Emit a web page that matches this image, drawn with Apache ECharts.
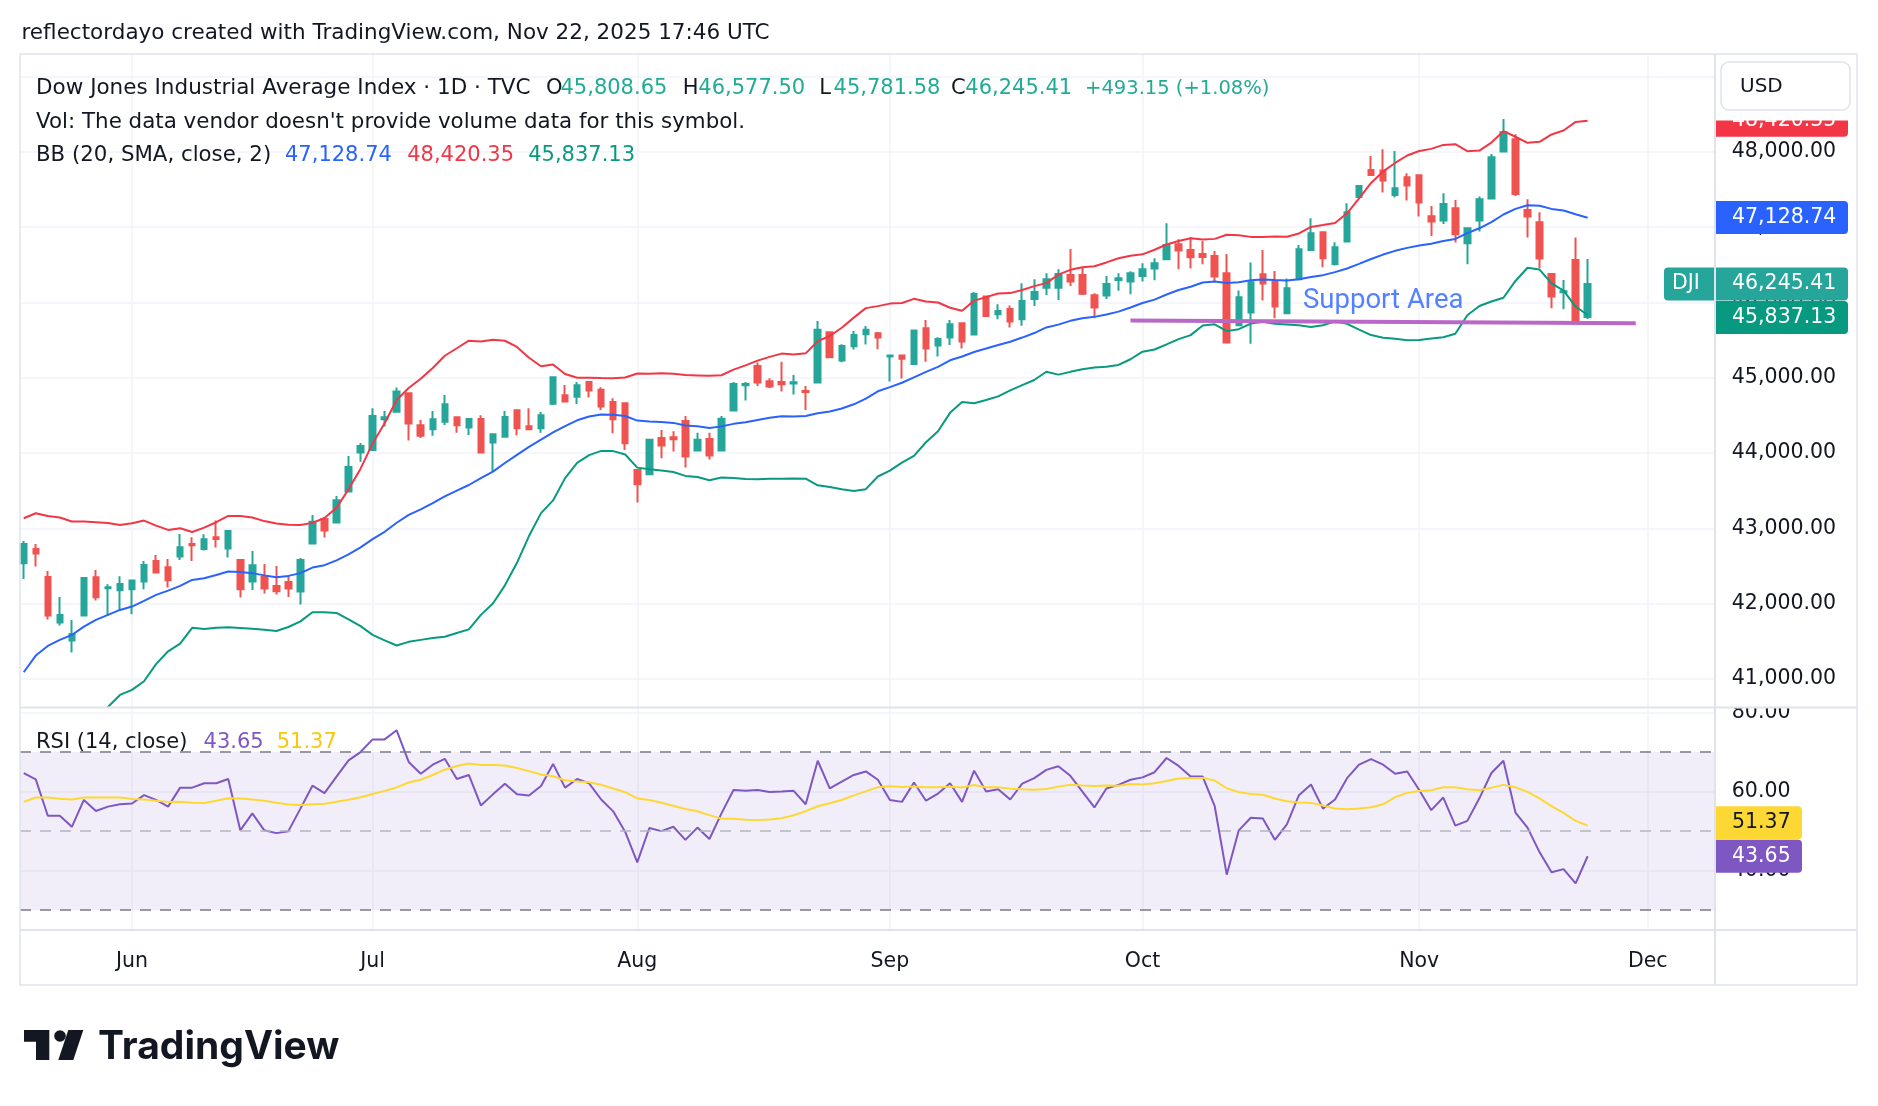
<!DOCTYPE html>
<html>
<head>
<meta charset="utf-8">
<title>DJI 1D - Bollinger Bands / RSI</title>
<script src="https://cdn.jsdelivr.net/npm/echarts@6/dist/echarts.min.js"></script>
<style>
  html, body { margin: 0; padding: 0; background: #fff; }
  #chart { width: 1878px; height: 1106px; }
</style>
</head>
<body>
<div id="chart"></div>
<script>
// daily candles, first bar = 2025-05-19, last bar = 2025-11-21
const opens = [
  42537, 42728, 42356, 41749, 41510, 41842, 42351, 42205, 42179, 42192,
  42294, 42568, 42484, 42626, 42794, 42728, 42883, 42732, 42582, 42294,
  42356, 42236, 42289, 42161, 42798, 43126, 43077, 43489, 44007, 44042,
  44449, 44551, 44795, 44370, 44317, 44418, 44476, 44339, 44454, 44140,
  44219, 44569, 44356, 44330, 44657, 44768, 44750, 44946, 44840, 44680,
  44663, 43777, 43720, 44202, 44211, 44428, 44034, 44189, 44034, 44565,
  44902, 45158, 44955, 44946, 44924, 44826, 44937, 45606, 45229, 45420,
  45579, 45592, 45282, 45295, 45184, 45658, 45428, 45534, 45724, 45574,
  46079, 45844, 45915, 45778, 46048, 46198, 46198, 46366, 46366, 46096,
  46092, 46300, 46278, 46354, 46451, 46575, 46774, 46699, 46646, 46619,
  46389, 45699, 45867, 46376, 46283, 45858, 46309, 46699, 46934, 46513,
  46810, 47403, 47761, 47753, 47429, 47664, 47690, 47146, 47088, 47252,
  46787, 47088, 47381, 48005, 48169, 47230, 47066, 46380, 46137, 46566,
  45808.65
];
const highs = [
  42834, 42794, 42435, 42090, 41785, 42342, 42449, 42258, 42365, 42316,
  42568, 42648, 42595, 42927, 42883, 42922, 43104, 42967, 42590, 42701,
  42528, 42502, 42382, 42608, 43179, 43126, 43431, 43962, 44135, 44595,
  44560, 44870, 44795, 44441, 44560, 44773, 44476, 44463, 44502, 44250,
  44560, 44569, 44595, 44547, 45016, 44905, 44945, 44946, 44875, 44729,
  44663, 43777, 44189, 44308, 44291, 44494, 44269, 44269, 44494, 44946,
  44946, 45203, 44995, 45212, 45039, 44893, 45756, 45606, 45446, 45623,
  45690, 45609, 45295, 45295, 45636, 45769, 45539, 45769, 45724, 46141,
  46092, 45977, 45959, 46256, 46309, 46389, 46442, 46712, 46468, 46123,
  46353, 46389, 46415, 46522, 46588, 47053, 46841, 46867, 46818, 46686,
  46646, 46159, 46531, 46699, 46420, 46318, 46765, 47120, 46934, 46801,
  47319, 47562, 47947, 48036, 48014, 47717, 47690, 47283, 47451, 47363,
  47000, 47407, 47974, 48439, 48235, 47372, 47199, 46380, 46300, 46863,
  46577.50
];
const lows = [
  42329, 42493, 41789, 41709, 41351, 41842, 42041, 41842, 41913, 41860,
  42192, 42413, 42214, 42582, 42568, 42706, 42745, 42613, 42081, 42183,
  42134, 42121, 42090, 41988, 42798, 42878, 43077, 43489, 43887, 44042,
  44352, 44551, 44166, 44201, 44232, 44374, 44272, 44241, 44007, 43754,
  44206, 44237, 44317, 44272, 44640, 44684, 44653, 44738, 44574, 44264,
  44043, 43343, 43720, 43932, 44021, 43808, 44034, 43915, 44034, 44565,
  44698, 44893, 44866, 44818, 44778, 44574, 44937, 45274, 45207, 45375,
  45442, 45379, 44950, 44990, 45171, 45215, 45282, 45437, 45388, 45574,
  45813, 45778, 45667, 45693, 45955, 46101, 46034, 46220, 46101, 45791,
  46048, 46158, 46110, 46278, 46296, 46575, 46442, 46451, 46509, 46278,
  45468, 45699, 45451, 46026, 45791, 45858, 46309, 46686, 46469, 46491,
  46810, 47403, 47682, 47460, 47394, 47354, 47142, 46885, 47044, 46796,
  46509, 46942, 47381, 48005, 47416, 46863, 46455, 45924, 45911, 45747,
  45781.58
];
const closes = [
  42794, 42666, 41842, 41851, 41599, 42342, 42086, 42219, 42263, 42307,
  42515, 42413, 42311, 42750, 42776, 42856, 42860, 42967, 42192, 42511,
  42201, 42165, 42201, 42582, 43090, 42971, 43374, 43816, 44095, 44494,
  44476, 44817, 44392, 44232, 44449, 44649, 44370, 44454, 44007, 44250,
  44480, 44330, 44317, 44502, 45007, 44684, 44901, 44831, 44618, 44450,
  44131, 43587, 44176, 44100, 44185, 43954, 44176, 43968, 44455, 44919,
  44919, 44937, 44884, 44915, 44942, 44813, 45637, 45274, 45424, 45570,
  45637, 45534, 45295, 45255, 45627, 45388, 45516, 45711, 45481, 46114,
  45822, 45888, 45747, 46021, 46141, 46309, 46380, 46278, 46118, 45933,
  46247, 46322, 46389, 46442, 46522, 46765, 46690, 46602, 46606, 46345,
  45468, 46070, 46270, 46252, 45946, 46190, 46708, 46920, 46588, 46734,
  47199, 47549, 47695, 47620, 47518, 47553, 47328, 47075, 47310, 46907,
  46987, 47372, 47930, 48262, 47443, 47142, 46584, 46079, 46150, 45752.26,
  46245.41
];

// Bollinger values before a full 20-bar window exists
const bbUpperHead = [43135, 43201, 43166, 43144, 43091, 43091, 43082, 43073, 43046, 43068,
                     43104, 43037, 42980, 43002, 42953, 43011, 43082, 43166, 43166];
const bbMidHead = [41090, 41311, 41439, 41519, 41585, 41696, 41785, 41851, 41917, 41962,
                   42037, 42117, 42174, 42236, 42316, 42338, 42382, 42427, 42422];

const rsiValues = [
  64.7, 63.1, 53.9, 53.9, 51.1, 57.9, 55.1, 56.2, 56.8, 57.0,
  59.1, 57.9, 56.2, 61.0, 61.0, 62.1, 62.1, 63.2, 50.2, 54.5,
  50.2, 49.5, 50.0, 55.7, 61.5, 59.6, 63.8, 67.9, 70.0, 73.2,
  73.2, 75.5, 67.5, 64.5, 66.8, 68.3, 63.2, 64.2, 56.5, 59.3,
  62.0, 59.3, 59.0, 61.4, 67.0, 61.0, 63.2, 62.1, 58.0, 55.0,
  49.8, 42.1, 50.8, 50.0, 51.1, 47.8, 50.9, 48.0, 54.5, 60.4,
  60.2, 60.4, 59.9, 60.0, 60.2, 56.8, 67.8, 60.8, 62.5, 64.2,
  65.1, 63.0, 57.9, 57.4, 62.3, 57.7, 59.5, 62.1, 57.4, 65.3,
  60.0, 60.6, 58.0, 62.0, 63.4, 65.5, 66.4, 64.0, 60.0, 56.0,
  60.8, 61.7, 63.0, 63.6, 64.9, 68.5, 66.5, 63.8, 63.8, 56.3,
  39.0, 50.2, 53.4, 53.2, 47.8, 51.7, 59.1, 61.8, 55.7, 58.0,
  63.4, 66.8, 68.2, 66.8, 64.5, 65.1, 60.4, 55.3, 58.5, 51.4,
  52.6, 58.3, 64.7, 67.8, 54.7, 50.9, 44.7, 39.6, 40.4, 36.8,
  43.65
];
// RSI moving average before 14 RSI values exist
const rsiMaHead = [57.4, 58.5, 58.5, 58.2, 58.0, 58.5, 58.5, 58.5, 58.5, 58.1, 58.0, 57.7, 57.4];

// values printed in the legends
const bbLast = { basis: 47128.74, upper: 48420.35, lower: 45837.13 };
const rsiLast = { rsi: 43.65, ma: 51.37 };

// drawn support line: [bar index, price]
const supportLine = [[92, 45760], [134, 45725]];
const supportLabel = [106.3, 46016];

const priceLabels = [41000, 42000, 43000, 44000, 45000, 46000, 47000, 48000];
const priceGrid = [41000, 42000, 43000, 44000, 45000, 46000, 47000, 48000, 49000];
const rsiLabels = [40, 60, 80];
const holidays = ['2025-05-26', '2025-06-19', '2025-07-04', '2025-09-01', '2025-11-27'];
const monthNames = ['Jan', 'Feb', 'Mar', 'Apr', 'May', 'Jun', 'Jul', 'Aug', 'Sep', 'Oct', 'Nov', 'Dec'];

const FONT = '"DejaVu Sans", sans-serif';
const UP = '#26A69A', DOWN = '#EF5350';
const GRID = '#F0F3FA', FRAME = '#E0E3EB', TEXT = '#131722';
const X_MIN = -0.31, X_MAX = 140.57;

function tradingDays(start, end) {
  const out = [];
  const d = new Date(start + 'T00:00:00Z');
  const e = new Date(end + 'T00:00:00Z');
  while (d <= e) {
    const wd = d.getUTCDay();
    const s = d.toISOString().slice(0, 10);
    if (wd !== 0 && wd !== 6 && holidays.indexOf(s) < 0) out.push(s);
    d.setUTCDate(d.getUTCDate() + 1);
  }
  return out;
}
const days = tradingDays('2025-05-19', '2025-12-31');
const monthIdx = [], monthLab = {};
days.forEach(function (s, i) {
  if (i > 0 && s.slice(5, 7) !== days[i - 1].slice(5, 7) && i <= X_MAX) {
    monthIdx.push(i);
    monthLab[i] = monthNames[+s.slice(5, 7) - 1];
  }
});

const fmt = v => v.toLocaleString('en-US', { minimumFractionDigits: 2, maximumFractionDigits: 2 });

// bollinger (20, sma, close, 2)
const bbUpper = [], bbMid = [], bbLower = [], bbBand = [];
closes.forEach(function (c, i) {
  let m, u, l;
  if (i < bbMidHead.length) {
    m = bbMidHead[i]; u = bbUpperHead[i]; l = 2 * m - u;
  } else {
    const w = closes.slice(i - 19, i + 1);
    m = w.reduce((a, b) => a + b, 0) / 20;
    const sd = Math.sqrt(w.reduce((a, b) => a + (b - m) * (b - m), 0) / 20);
    u = m + 2 * sd; l = m - 2 * sd;
  }
  bbUpper.push([i, u]); bbMid.push([i, m]); bbLower.push([i, l]); bbBand.push([i, u - l]);
});

const rsiData = rsiValues.map((v, i) => [i, v]);
const rsiMa = rsiValues.map(function (v, i) {
  if (i < rsiMaHead.length) return [i, rsiMaHead[i]];
  const w = rsiValues.slice(i - 13, i + 1);
  return [i, w.reduce((a, b) => a + b, 0) / 14];
});
const candles = closes.map((c, i) => [i, opens[i], c, lows[i], highs[i]]);

const n = closes.length - 1;
const change = closes[n] - closes[n - 1];
const changePct = change / closes[n - 1] * 100;

const chart = echarts.init(document.getElementById('chart'));

const option = {
  animation: false,
  backgroundColor: '#ffffff',
  grid: [
    { left: 20, top: 54, width: 1694.8, height: 653 },
    { left: 20, top: 708, width: 1694.8, height: 222 }
  ],
  xAxis: [
    {
      type: 'value', gridIndex: 0, min: X_MIN, max: X_MAX,
      axisLine: { show: false },
      axisTick: { show: false, customValues: monthIdx },
      axisLabel: { show: false, customValues: monthIdx },
      splitLine: { show: true, lineStyle: { color: GRID, width: 1.5 } }
    },
    {
      type: 'value', gridIndex: 1, min: X_MIN, max: X_MAX,
      axisLine: { show: false },
      axisTick: { show: false, customValues: monthIdx },
      axisLabel: {
        show: true, customValues: monthIdx, margin: 21.5,
        formatter: v => monthLab[v] || '',
        color: TEXT, fontSize: 20.5, fontFamily: FONT
      },
      splitLine: { show: true, lineStyle: { color: GRID, width: 1.5 } }
    }
  ],
  yAxis: [
    {
      type: 'value', gridIndex: 0, position: 'right', min: 40628, max: 49301,
      axisLine: { show: false },
      axisTick: { show: false, customValues: priceGrid },
      axisLabel: {
        customValues: priceLabels, margin: 17, formatter: v => fmt(v),
        color: TEXT, fontSize: 20.5, fontFamily: FONT
      },
      splitLine: { show: true, lineStyle: { color: GRID, width: 1.5 } }
    },
    {
      type: 'value', gridIndex: 1, position: 'right', min: 25.0, max: 81.14,
      axisLine: { show: false },
      axisTick: { show: false, customValues: rsiLabels },
      axisLabel: {
        customValues: rsiLabels, margin: 17, formatter: v => v.toFixed(2),
        color: TEXT, fontSize: 20.5, fontFamily: FONT
      },
      splitLine: { show: true, lineStyle: { color: GRID, width: 1.5 } }
    }
  ],
  series: [
    {
      name: 'bb base', type: 'line', xAxisIndex: 0, yAxisIndex: 0, stack: 'bb',
      data: bbLower, symbol: 'none', silent: true, z: 1,
      lineStyle: { width: 0, opacity: 0 }
    },
    {
      name: 'bb fill', type: 'line', xAxisIndex: 0, yAxisIndex: 0, stack: 'bb',
      data: bbBand, symbol: 'none', silent: true, z: 1,
      lineStyle: { width: 0, opacity: 0 },
      areaStyle: { color: 'rgba(33, 150, 243, 0.05)', opacity: 1 }
    },
    {
      name: 'DJI', type: 'candlestick', xAxisIndex: 0, yAxisIndex: 0,
      data: candles, barWidth: 6, z: 3,
      itemStyle: { color: UP, color0: DOWN, borderColor: UP, borderColor0: DOWN, borderWidth: 2 }
    },
    {
      name: 'upper', type: 'line', xAxisIndex: 0, yAxisIndex: 0, data: bbUpper,
      symbol: 'none', z: 4, lineStyle: { color: '#F23645', width: 2 }
    },
    {
      name: 'basis', type: 'line', xAxisIndex: 0, yAxisIndex: 0, data: bbMid,
      symbol: 'none', z: 4, lineStyle: { color: '#2962FF', width: 2 }
    },
    {
      name: 'lower', type: 'line', xAxisIndex: 0, yAxisIndex: 0, data: bbLower,
      symbol: 'none', z: 4, lineStyle: { color: '#089981', width: 2 }
    },
    {
      name: 'support', type: 'line', xAxisIndex: 0, yAxisIndex: 0, data: supportLine,
      symbol: 'none', z: 5, lineStyle: { color: '#BA68C8', width: 4 }
    },
    {
      name: 'support text', type: 'scatter', xAxisIndex: 0, yAxisIndex: 0, data: [supportLabel],
      symbolSize: 1, z: 6, itemStyle: { color: 'rgba(0,0,0,0)' },
      label: {
        show: true, position: 'right', distance: 0, formatter: 'Support Area',
        color: '#2962FF', fontSize: 27.5, fontFamily: 'Roboto'
      }
    },
    {
      name: 'RSI', type: 'line', xAxisIndex: 1, yAxisIndex: 1, data: rsiData,
      symbol: 'none', z: 4, lineStyle: { color: '#7E57C2', width: 2 },
      markArea: {
        silent: true, itemStyle: { color: 'rgba(126, 87, 194, 0.1)' },
        data: [[{ yAxis: 30 }, { yAxis: 70 }]]
      },
      markLine: {
        silent: true, symbol: 'none', label: { show: false },
        data: [
          { yAxis: 70, lineStyle: { color: '#787B86', type: [11, 9], width: 1.5 } },
          { yAxis: 50, lineStyle: { color: '#B2B5BE', type: [11, 9], width: 1.5 } },
          { yAxis: 30, lineStyle: { color: '#787B86', type: [11, 9], width: 1.5 } }
        ]
      }
    },
    {
      name: 'RSI MA', type: 'line', xAxisIndex: 1, yAxisIndex: 1, data: rsiMa,
      symbol: 'none', z: 4, lineStyle: { color: '#FDD835', width: 2 }
    }
  ]
};

chart.setOption(option);

// ---- overlay: legends, price tags, frame, logo
const TY = 3.5; // legend text sits a little lower than the em-box middle
function txt(x, y, text, fill, size, extra) {
  return Object.assign({
    type: 'text', x: x, y: y, z: 100,
    style: { text: text, fill: fill, font: (size || 21) + 'px ' + FONT, verticalAlign: 'middle' }
  }, extra || {});
}
function legend(x, y, text, fill, size) {
  return txt(x, y + TY, text, fill, size);
}
function tag(x, cy, w, color, text, textColor, textX, radius) {
  return [
    { type: 'rect', z: 110, shape: { x: x, y: cy - 16.5, width: w, height: 33, r: radius }, style: { fill: color } },
    txt(textX, cy, text, textColor, 20.5, { z: 111 })
  ];
}
function line(x1, y1, x2, y2, color, width) {
  return { type: 'line', z: 105, shape: { x1: x1, y1: y1, x2: x2, y2: y2 }, style: { stroke: color, lineWidth: width || 1.5 } };
}

const py = v => chart.convertToPixel({ yAxisIndex: 0 }, v);
const ry = v => chart.convertToPixel({ yAxisIndex: 1 }, v);

const yRed = py(bbLast.upper), yBlue = py(bbLast.basis), yClose = py(closes[n]);
const yGreen = Math.max(py(bbLast.lower), yClose + 33.5);
const yPurple = ry(rsiLast.rsi);
const yYellow = Math.min(ry(rsiLast.ma), yPurple - 33.5);

const TEAL = '#22AB94';
const sign = v => (v >= 0 ? '+' : '');
const g = [
  legend(21.5, 30, 'reflectordayo created with TradingView.com, Nov 22, 2025 17:46 UTC', TEXT, 21.5),
  legend(36, 85, 'Dow Jones Industrial Average Index · 1D · TVC', TEXT, 21.5),
  legend(546, 85, 'O', TEXT), legend(560.5, 85, fmt(opens[n]), TEAL),
  legend(682.7, 85, 'H', TEXT), legend(698.3, 85, fmt(highs[n]), TEAL),
  legend(819.2, 85, 'L', TEXT), legend(833.6, 85, fmt(lows[n]), TEAL),
  legend(951, 85, 'C', TEXT), legend(965.3, 85, fmt(closes[n]), TEAL),
  legend(1085.1, 85, sign(change) + change.toFixed(2) + ' (' + sign(change) + changePct.toFixed(2) + '%)', TEAL, 19.5),
  legend(36, 118.6, "Vol: The data vendor doesn't provide volume data for this symbol.", TEXT, 21.4),
  legend(36, 152, 'BB (20, SMA, close, 2)', TEXT, 21.3),
  legend(285, 152, fmt(bbLast.basis), '#2962FF'),
  legend(407.2, 152, fmt(bbLast.upper), '#F23645'),
  legend(528.2, 152, fmt(bbLast.lower), '#089981'),
  legend(36, 739, 'RSI (14, close)', TEXT),
  legend(203.6, 739, rsiLast.rsi.toFixed(2), '#7E57C2'),
  legend(276.7, 739, rsiLast.ma.toFixed(2), '#F9C80E'),

  // frame and pane separators
  { type: 'rect', z: 104, shape: { x: 20, y: 54, width: 1837, height: 931 }, style: { fill: 'none', stroke: FRAME, lineWidth: 1.5 } },
  line(20, 707.5, 1857, 707.5, FRAME, 2),
  line(20, 930, 1857, 930, FRAME, 2),
  line(1715, 54, 1715, 985, FRAME, 2),
  // hide the top of the "80.00" label like the pane clip does
  { type: 'rect', z: 103, shape: { x: 1716, y: 690, width: 140, height: 17 }, style: { fill: '#fff' } }
];

g.push.apply(g, tag(1716, yRed, 132, '#F23645', fmt(bbLast.upper), '#fff', 1732, [0, 4, 4, 0]));
g.push.apply(g, tag(1716, yBlue, 132, '#2962FF', fmt(bbLast.basis), '#fff', 1732, [0, 4, 4, 0]));
g.push.apply(g, tag(1716, yClose, 132, UP, fmt(closes[n]), '#fff', 1732, [0, 4, 4, 0]));
g.push.apply(g, tag(1664, yClose, 50, UP, 'DJI', '#fff', 1672, [4, 0, 0, 4]));
g.push.apply(g, tag(1716, yGreen, 132, '#089981', fmt(bbLast.lower), '#fff', 1732, [0, 4, 4, 0]));
g.push.apply(g, tag(1716, yYellow, 86, '#FDD835', rsiLast.ma.toFixed(2), TEXT, 1732, [0, 4, 4, 0]));
g.push.apply(g, tag(1716, yPurple, 86, '#7E57C2', rsiLast.rsi.toFixed(2), '#fff', 1732, [0, 4, 4, 0]));

// USD button covering the top of the upper band tag
g.push({ type: 'rect', z: 120, shape: { x: 1716, y: 55, width: 140, height: 65.5 }, style: { fill: '#fff' } });
g.push({ type: 'rect', z: 121, shape: { x: 1721, y: 62, width: 129, height: 48, r: 8 }, style: { fill: '#fff', stroke: FRAME, lineWidth: 1.5 } });
g.push(txt(1740, 87, 'USD', TEXT, 20, { z: 122 }));

// TradingView logo
g.push({ type: 'polygon', z: 100, shape: { points: [[24, 1030], [49.3, 1030], [49.3, 1060], [36, 1060], [36, 1041.7], [24, 1041.7]] }, style: { fill: TEXT } });
g.push({ type: 'circle', z: 100, shape: { cx: 60, cy: 1036, r: 5.8 }, style: { fill: TEXT } });
g.push({ type: 'polygon', z: 100, shape: { points: [[68.3, 1030], [83.3, 1030], [73.3, 1060], [58.3, 1060]] }, style: { fill: TEXT } });
g.push({ type: 'text', x: 98, y: 1047.5, z: 100, style: { text: 'TradingView', fill: TEXT, font: 'bold 39px Inter, sans-serif', verticalAlign: 'middle' } });

chart.setOption({ graphic: { elements: g } });
</script>
</body>
</html>
